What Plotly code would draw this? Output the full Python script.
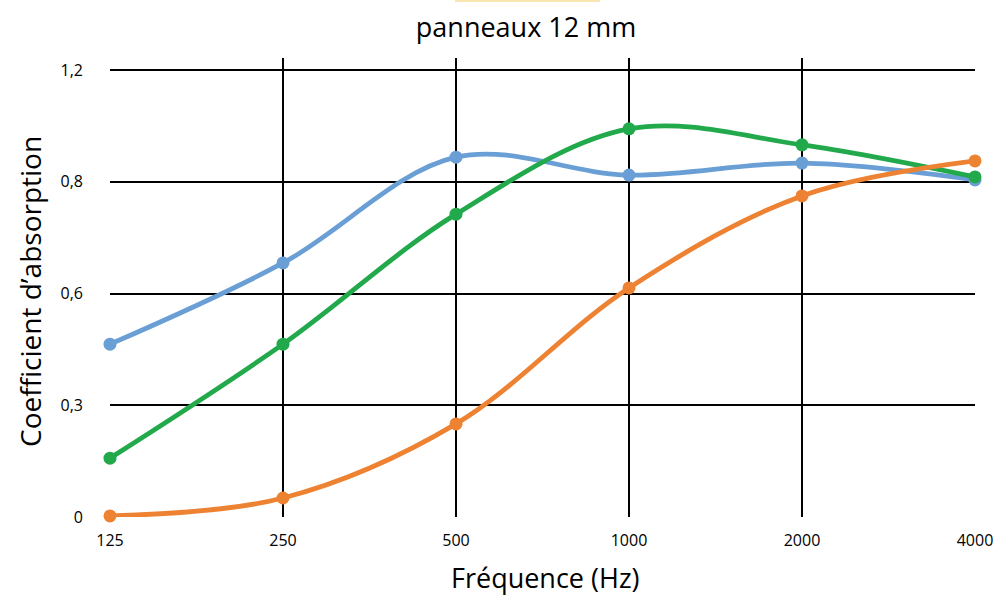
import plotly.graph_objects as go

frequences = ["125", "250", "500", "1000", "2000", "4000"]
serie_bleue = [0.464, 0.682, 0.966, 0.918, 0.950, 0.905]
serie_verte = [0.158, 0.464, 0.813, 1.042, 0.999, 0.913]
serie_orange = [0.003, 0.051, 0.250, 0.615, 0.862, 0.956]

y_ticks = [0, 0.3, 0.6, 0.9, 1.2]
y_labels = ["0", "0,3", "0,6", "0,8", "1,2"]

couleurs = {"bleu": "#6A9FD6", "vert": "#22A94B", "orange": "#EE8233"}

fig = go.Figure()

for nom, valeurs in [("bleu", serie_bleue), ("vert", serie_verte), ("orange", serie_orange)]:
    fig.add_trace(
        go.Scatter(
            x=frequences,
            y=valeurs,
            mode="lines+markers",
            line=dict(color=couleurs[nom], width=4.8, shape="spline", smoothing=1),
            marker=dict(color=couleurs[nom], size=13),
            cliponaxis=False,
            showlegend=False,
        )
    )

# fin liseré jaune tout en haut
fig.add_shape(
    type="line",
    xref="paper", yref="paper",
    x0=(455 - 110) / 865, x1=(600 - 110) / 865,
    y0=(517 - 0.5) / 459, y1=(517 - 0.5) / 459,
    line=dict(color="rgba(245, 205, 100, 0.5)", width=3),
    layer="below",
)

# titres des axes
fig.add_annotation(
    text="Fréquence (Hz)",
    xref="paper", yref="paper",
    x=(545 - 110) / 865, y=-(577 - 517) / 459,
    xanchor="center", yanchor="middle",
    showarrow=False,
    font=dict(size=27),
)
fig.add_annotation(
    text="Coefficient d’absorption",
    xref="paper", yref="paper",
    x=-(110 - 30) / 865, y=(517 - 292) / 459,
    xanchor="center", yanchor="middle",
    textangle=-90,
    showarrow=False,
    font=dict(size=28),
)

fig.update_layout(
    width=995,
    height=597,
    margin=dict(l=110, r=20, t=58, b=80, autoexpand=False),
    paper_bgcolor="white",
    plot_bgcolor="white",
    font=dict(family="Open Sans", color="black"),
    title=dict(
        text="panneaux 12 mm",
        x=526 / 995,
        xanchor="center",
        y=1 - 28 / 597,
        yanchor="middle",
        font=dict(size=27),
    ),
)

fig.update_xaxes(
    type="category",
    range=[0, 5],
    showgrid=True,
    gridcolor="black",
    gridwidth=2,
    showline=False,
    zeroline=False,
    automargin=False,
    tickfont=dict(size=16),
    ticks="",
    ticklabelstandoff=12,
)

fig.update_yaxes(
    range=[0, 1.2 * 459 / 447],
    tickvals=y_ticks,
    ticktext=y_labels,
    showgrid=True,
    gridcolor="black",
    gridwidth=2,
    zeroline=False,
    showline=False,
    automargin=False,
    tickfont=dict(size=16),
    ticks="",
    ticklabelstandoff=26,
)

fig.write_html(
    "out.html",
    config={"displayModeBar": False},
    post_script="document.body.style.margin='0px'; document.body.style.overflow='hidden';",
)
